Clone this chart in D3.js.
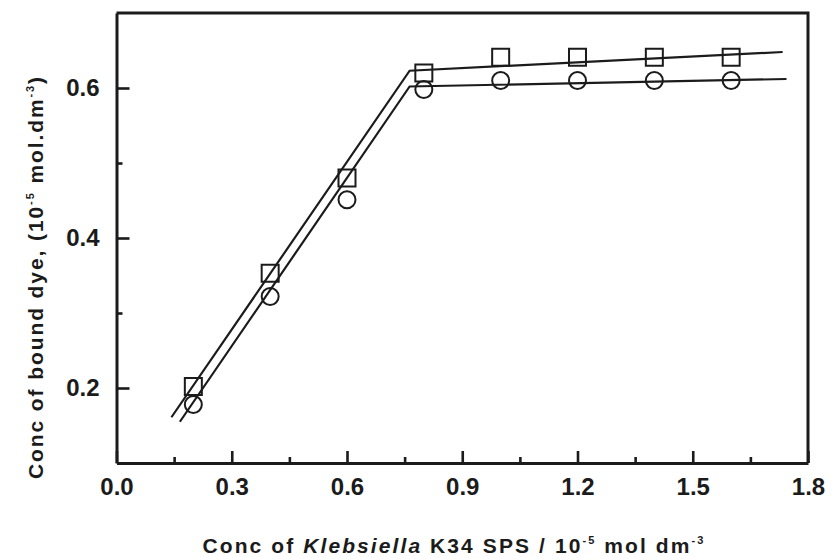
<!DOCTYPE html>
<html>
<head>
<meta charset="utf-8">
<script src="https://cdn.jsdelivr.net/npm/d3@7.9.0/dist/d3.min.js"></script>
<style>
  body { margin: 0; background: #fff; }
  svg { display: block; font-family: "Liberation Sans", Arial, sans-serif; }
</style>
</head>
<body>
<svg id="chart" width="832" height="559"></svg>
<script>
// measured points
const conc = [0.2, 0.4, 0.6, 0.8, 1.0, 1.2, 1.4, 1.6];
const squareVals = [0.202, 0.353, 0.48, 0.62, 0.641, 0.641, 0.641, 0.641];
const circleVals = [0.178, 0.322, 0.451, 0.598, 0.61, 0.61, 0.61, 0.61];

// fitted line segments (two straight parts each)
const squareFitX = [0.143, 0.763, 1.734];
const squareFitY = [0.161, 0.623, 0.648];
const circleFitX = [0.165, 0.763, 1.744];
const circleFitY = [0.155, 0.602, 0.612];

const xTicks = [0.0, 0.3, 0.6, 0.9, 1.2, 1.5, 1.8];
const xMinor = [0.15, 0.45, 0.75, 1.05, 1.35, 1.65];
const yTicks = [0.2, 0.4, 0.6];
const yMinor = [0.3, 0.5];

const ink = '#1b1b1b';
const margin = { left: 116.5, right: 24, top: 13, bottom: 96 };
const W = 832, H = 559;

const svg = d3.select('#chart');
const x = d3.scaleLinear().domain([0, 1.8]).range([margin.left, W - margin.right]);
const y = d3.scaleLinear().domain([0.1, 0.7]).range([H - margin.bottom, margin.top]);

// x axis
svg.append('g')
  .attr('transform', `translate(0,${y(0.1)})`)
  .call(d3.axisBottom(x).tickValues(xTicks).tickFormat(d3.format('.1f'))
    .tickSizeInner(-12).tickSizeOuter(0).tickPadding(15));
svg.append('g')
  .attr('transform', `translate(0,${y(0.1)})`)
  .call(d3.axisBottom(x).tickValues(xMinor).tickFormat('').tickSizeInner(-6).tickSizeOuter(0))
  .select('.domain').remove();

// y axis
svg.append('g')
  .attr('transform', `translate(${x(0)},0)`)
  .call(d3.axisLeft(y).tickValues(yTicks).tickFormat(d3.format('.1f'))
    .tickSizeInner(-13).tickSizeOuter(0).tickPadding(17));
svg.append('g')
  .attr('transform', `translate(${x(0)},0)`)
  .call(d3.axisLeft(y).tickValues(yMinor).tickFormat('').tickSizeInner(-6).tickSizeOuter(0))
  .select('.domain').remove();

svg.selectAll('.tick line').attr('stroke', ink).attr('stroke-width', 2.6);
svg.selectAll('.domain').attr('stroke', ink).attr('stroke-width', 3);
svg.selectAll('.tick text')
  .attr('fill', ink)
  .style('font-size', '24px')
  .style('font-weight', 'bold');

// top and right frame
svg.append('path')
  .attr('d', `M${x(0)},${y(0.7)}H${x(1.8)}V${y(0.1)}`)
  .attr('fill', 'none')
  .attr('stroke', ink)
  .attr('stroke-width', 3);

// fit lines
const line = d3.line().x(d => x(d[0])).y(d => y(d[1]));
[[squareFitX, squareFitY], [circleFitX, circleFitY]].forEach(([xs, ys]) => {
  svg.append('path')
    .datum(d3.zip(xs, ys))
    .attr('d', line)
    .attr('fill', 'none')
    .attr('stroke', ink)
    .attr('stroke-width', 2.2);
});

// markers
const side = 17;
svg.append('g').selectAll('rect')
  .data(d3.zip(conc, squareVals))
  .join('rect')
  .attr('x', d => x(d[0]) - side / 2)
  .attr('y', d => y(d[1]) - side / 2)
  .attr('width', side).attr('height', side)
  .attr('fill', 'none').attr('stroke', ink).attr('stroke-width', 2);

svg.append('g').selectAll('circle')
  .data(d3.zip(conc, circleVals))
  .join('circle')
  .attr('cx', d => x(d[0]))
  .attr('cy', d => y(d[1]))
  .attr('r', 8.5)
  .attr('fill', 'none').attr('stroke', ink).attr('stroke-width', 2);

// spread a title out to the width the original uses
function spread(textSel, target) {
  const node = textSel.node();
  const n = node.textContent.length;
  const w = node.getComputedTextLength();
  textSel.style('letter-spacing', ((target - w) / n) + 'px');
}

// axis titles
const xTitle = svg.append('text')
  .attr('x', 454).attr('y', 553)
  .attr('text-anchor', 'middle')
  .attr('fill', ink)
  .style('font-size', '21px').style('font-weight', 'bold');
xTitle.append('tspan').text('Conc of ');
xTitle.append('tspan').attr('font-style', 'italic').text('Klebsiella');
xTitle.append('tspan').text(' K34 SPS / 10');
xTitle.append('tspan').attr('dy', -9).style('font-size', '11px').text('-5');
xTitle.append('tspan').attr('dy', 9).text(' mol dm');
xTitle.append('tspan').attr('dy', -9).style('font-size', '11px').text('-3');
spread(xTitle, 503);

const yTitle = svg.append('text')
  .attr('transform', 'translate(43,277) rotate(-90)')
  .attr('text-anchor', 'middle')
  .attr('fill', ink)
  .style('font-size', '21px').style('font-weight', 'bold');
yTitle.append('tspan').text('Conc of bound dye, (10');
yTitle.append('tspan').attr('dy', -9).style('font-size', '11px').text('-5');
yTitle.append('tspan').attr('dy', 9).text(' mol.dm');
yTitle.append('tspan').attr('dy', -9).style('font-size', '11px').text('-3');
yTitle.append('tspan').attr('dy', 9).text(')');
spread(yTitle, 404);
</script>
</body>
</html>
